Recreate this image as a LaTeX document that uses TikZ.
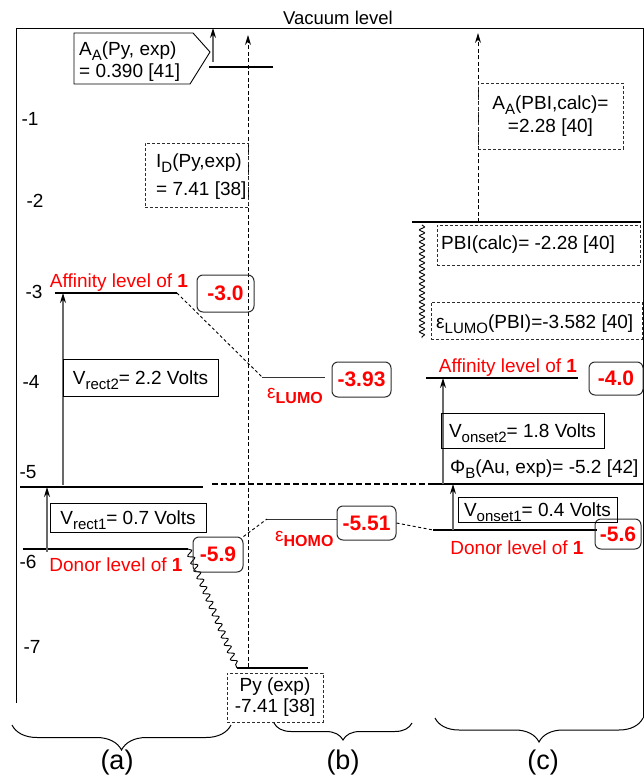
\documentclass[tikz,border=0pt]{standalone}
\usepackage{fontspec}
\setmainfont{Liberation Sans}
\usepackage{tikz}
\usetikzlibrary{arrows.meta, decorations.pathmorphing, decorations.pathreplacing}
\definecolor{lvlred}{RGB}{255,0,0}
\definecolor{arrgray}{RGB}{105,105,105}
\definecolor{boxdark}{RGB}{45,45,45}
\newcommand{\lsub}[1]{\raisebox{-5pt}{\fontsize{15}{15}\selectfont #1}}
\tikzset{
  lvl/.style={line width=2.6pt, color=black},
  midlvl/.style={line width=1.4pt, color=black},
  thinlvl/.style={line width=1pt, color=black!80},
  txt/.style={inner sep=0pt},
  redlbl/.style={inner sep=0pt, text=lvlred},
  vbox/.style={rectangle, draw=black, line width=0.9pt, inner sep=0pt,
    text height=13.5pt, text depth=0pt},
  dbox/.style={rectangle, draw=boxdark, line width=0.9pt, inner sep=0pt,
    dash pattern=on 3pt off 2pt},
  valbox/.style={rectangle, draw=boxdark, rounded corners=6pt, line width=1pt,
    inner sep=0pt, text=lvlred, font=\fontsize{21}{23}\selectfont\bfseries},
  uparrow/.style={-{Stealth[length=10pt, width=6pt, color=black]}, line width=1.2pt, color=arrgray},
  dasharrow/.style={-{Stealth[length=10pt, width=6pt]}, line width=1pt,
    dash pattern=on 4pt off 2.5pt},
  dotline/.style={line width=0.9pt, dash pattern=on 3pt off 2.5pt},
  wavy/.style={decorate, decoration={snake, amplitude=3pt, segment length=8pt},
    line width=0.9pt},
  grp/.style={decorate, decoration={brace, mirror, amplitude=#1}, line width=1pt},
  grplbl/.style={inner sep=0pt, anchor=base, font=\fontsize{27}{29}\selectfont}
}

\begin{document}
\begin{tikzpicture}[x=1pt, y=-1pt, font=\fontsize{19}{21}\selectfont]
  \useasboundingbox (0,0) rectangle (644,778);

  % Frame and vacuum level
  \draw[line width=0.9pt] (16,703) -- (16,28) -- (643,28) -- (643,718);
  \node[txt, anchor=base, font=\fontsize{18.5}{20}\selectfont] (vac) at (338,25) {Vacuum level};

  % Energy scale
  \foreach \v/\x/\y in {1/30/119, 2/35/201, 3/34/292, 4/31/382, 5/28/472, 6/28/562, 7/32/647}
    \node[txt] (e\v) at (\x,\y) {-\v};

  % Level ends
  \coordinate (pyL-l) at (209,67);  \coordinate (pyL-r) at (273,67);
  \coordinate (pbi-l) at (412,222); \coordinate (pbi-r) at (641,222);
  \coordinate (affA-l) at (55,293); \coordinate (affA-r) at (177,293);
  \coordinate (lumo-l) at (262,377); \coordinate (lumo-r) at (325,377);
  \coordinate (affC-l) at (426,378); \coordinate (affC-r) at (578,378);
  \coordinate (auA-l) at (20,487);  \coordinate (auA-r) at (203,487);
  \coordinate (auB-l) at (212,484); \coordinate (auB-r) at (433,484);
  \coordinate (auC-r) at (643,484);
  \coordinate (homo-l) at (267,519); \coordinate (homo-r) at (337,519);
  \coordinate (donC-l) at (433,530); \coordinate (donC-r) at (597,530);
  \coordinate (donA-l) at (23,549); \coordinate (donA-r) at (188,549);
  \coordinate (pyH-l) at (237,668); \coordinate (pyH-r) at (308,668);

  % Levels
  \draw[lvl] (pyL-l) -- (pyL-r);
  \draw[lvl] (pbi-l) -- (pbi-r);
  \draw[midlvl] (affA-l) -- (affA-r);
  \draw[thinlvl] (lumo-l) -- (lumo-r);
  \draw[lvl] (affC-l) -- (affC-r);
  \draw[lvl] (auA-l) -- (auA-r);
  \draw[line width=2pt, dash pattern=on 6pt off 3pt] (auB-l) -- (auB-r);
  \draw[midlvl] (auB-r) -- (auC-r);
  \draw[thinlvl] (homo-l) -- (homo-r);
  \draw[midlvl] (donC-l) -- (donC-r);
  \draw[lvl] (donA-l) -- (donA-r);
  \draw[lvl] (pyH-l) -- (pyH-r);

  % Py affinity (exp)
  \draw[line width=0.9pt] (74,33) -- (193,33) -- (210,52) -- (190,84) -- (74,84) -- cycle;
  \node[txt, anchor=north west, align=left] (aapy) at (79,42) {A\lsub{A}(Py, exp)\\[1pt]= 0.390 [41]};
  \coordinate (aapy-s) at (213,62); \coordinate (aapy-e) at (213,28);
  \draw[uparrow] (aapy-s) -- (aapy-e);

  % Py ionisation (exp)
  \coordinate (ion-s) at (248,667); \coordinate (ion-e) at (248,35);
  \draw[dasharrow] (ion-s) -- (ion-e);
  \node[dbox, minimum width=103pt, minimum height=64pt] (idbox) at (196.5,175) {};
  \node[txt, anchor=north west, align=left] (idpy) at (156,154) {I\lsub{D}(Py,exp)\\[7pt]= 7.41 [38]};
  \node[dbox, minimum width=96pt, minimum height=49pt, align=center] (pyexp) at (275,697.5) {Py (exp)\\-7.41 [38]};
  \draw[wavy] (donA-r) -- (pyH-l);

  % PBI (calc)
  \coordinate (aapbi-e) at (478,33); \coordinate (aapbi-s) at (478,222);
  \draw[dasharrow] (aapbi-s) -- (aapbi-e);
  \node[dbox, minimum width=145pt, minimum height=66pt, align=center] (aapbi) at (550.5,116) {A\lsub{A}(PBI,calc)=\\[2pt]=2.28 [40]};
  \node[dbox, minimum width=203pt, minimum height=40pt] (pbibox) at (538.5,245) {};
  \node[txt, anchor=base west] (pbicalc) at (441,249) {PBI(calc)= -2.28 [40]};
  \node[dbox, minimum width=211pt, minimum height=37pt] (lumobox) at (536.5,320.5) {};
  \node[txt, anchor=base west] (lumopbi) at (436,328) {ε\lsub{LUMO}(PBI)=-3.582 [40]};
  \coordinate (pw-s) at (422,225); \coordinate (pw-e) at (422,338);
  \draw[decorate, decoration={snake, amplitude=2.5pt, segment length=6pt}, line width=0.9pt] (pw-s) -- (pw-e);

  % (a) rectifier
  \node[redlbl, anchor=base] (affAt) at (119,287) {Affinity level of \textbf{1}};
  \node[redlbl, anchor=base] (donAt) at (116,571) {Donor level of \textbf{1}};
  \node[valbox, minimum width=57pt, minimum height=37pt] (v30) at (225.5,293.5) {-3.0};
  \node[valbox, minimum width=50pt, minimum height=35pt] (v59) at (218,554.5) {-5.9};
  \coordinate (r2-s) at (63,485); \coordinate (r2-e) at (63,293);
  \coordinate (r1-s) at (47,552); \coordinate (r1-e) at (47,487);
  \draw[uparrow] (r2-s) -- (r2-e);
  \draw[uparrow] (r1-s) -- (r1-e);
  \node[vbox, minimum width=155pt, minimum height=37pt] (rect2) at (140.5,377.5) {V\lsub{rect2}= 2.2 Volts};
  \node[vbox, minimum width=156pt, minimum height=29pt] (rect1) at (128,517.5) {V\lsub{rect1}= 0.7 Volts};

  % (b) molecule levels
  \draw[dotline] (affA-r) -- (lumo-l);
  \draw[dotline] (v59.north east) -- (homo-l);
  \node[redlbl, anchor=base west] (lumot) at (267,398) {ε\lsub{\fontsize{16}{16}\selectfont\bfseries LUMO}};
  \node[redlbl, anchor=base west] (homot) at (275,541) {ε\lsub{\fontsize{16}{16}\selectfont\bfseries HOMO}};
  \node[valbox, minimum width=59pt, minimum height=35pt] (v393) at (361.5,379.5) {-3.93};
  \node[valbox, minimum width=59pt, minimum height=34pt] (v551) at (366.5,523) {-5.51};
  \draw[dotline] (v551.east) -- (donC-l);

  % (c) onset
  \node[redlbl, anchor=base] (affCt) at (508,372) {Affinity level of \textbf{1}};
  \node[redlbl, anchor=base] (donCt) at (517,554) {Donor level of \textbf{1}};
  \node[valbox, minimum width=54pt, minimum height=33pt] (v40) at (616,378.5) {-4.0};
  \node[valbox, minimum width=46pt, minimum height=30pt] (v56) at (618,534) {-5.6};
  \coordinate (o2-s) at (443,484); \coordinate (o2-e) at (443,378);
  \coordinate (o1-s) at (453,530); \coordinate (o1-e) at (453,484);
  \draw[uparrow] (o2-s) -- (o2-e);
  \draw[uparrow] (o1-s) -- (o1-e);
  \node[vbox, minimum width=163pt, minimum height=35pt] (onset2) at (522.5,430.5) {V\lsub{onset2}= 1.8 Volts};
  \node[vbox, minimum width=159pt, minimum height=25pt] (onset1) at (537.5,509.5) {V\lsub{onset1}= 0.4 Volts};
  \node[txt, anchor=base west] (phib) at (450,473) {Φ\lsub{B}(Au, exp)= -5.2 [42]};

  % Groups
  \draw[grp=25pt] (12,725) -- (231,725);
  \draw[grp=17pt] (274,723) -- (412,723);
  \draw[grp=24pt] (435,718) -- (643,718);
  \node[grplbl] (lba) at (117,769) {(a)};
  \node[grplbl] (lbb) at (343,769) {(b)};
  \node[grplbl] (lbc) at (543,769) {(c)};
\end{tikzpicture}
\end{document}
